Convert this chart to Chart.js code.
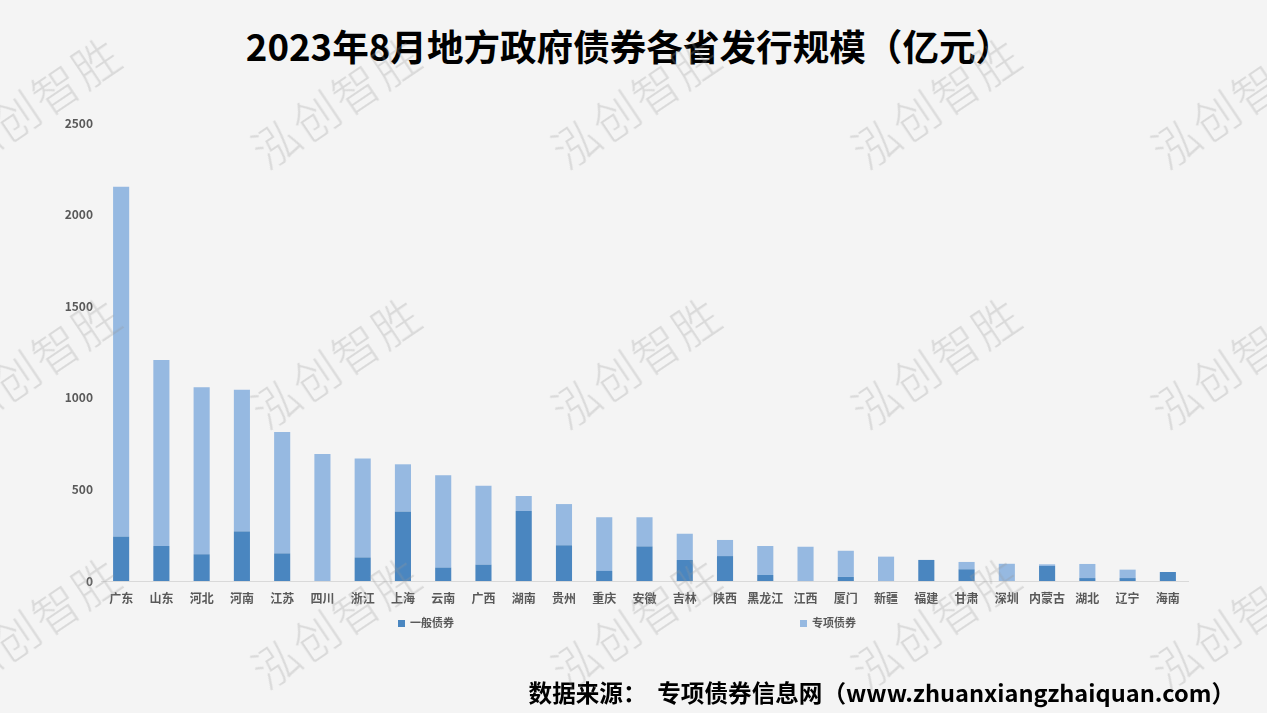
<!DOCTYPE html>
<html>
<head>
<meta charset="utf-8">
<script src="https://cdn.jsdelivr.net/npm/chart.js@4.4.0/dist/chart.umd.min.js"></script>
<style>
    html, body { margin: 0; padding: 0; }
    body { width: 1267px; height: 713px; background: #f4f4f4; position: relative; overflow: hidden;
           font-family: "Noto Sans CJK SC", "Noto Sans", sans-serif; }
    #wrap { position: absolute; left: 0; top: 0; width: 1267px; height: 713px; }
    #title { position: absolute; left: 6px; width: 1246px; top: 21px; text-align: center;
             font-size: 36.6px; font-weight: 700; color: #000; line-height: 50px; }
    #source { position: absolute; right: 32px; top: 676px; font-size: 23.6px; font-weight: 700;
              color: #000; line-height: 32px; white-space: pre; }
    #legend { position: absolute; top: 612px; left: 0; width: 1267px; height: 20px; }
    .lg-item { position: absolute; font-size: 11px; font-weight: 700; color: #595959; line-height: 20px; }
    .lg-box { display: inline-block; width: 7px; height: 7px; margin-right: 5px; vertical-align: 0px; }
    .wm { position: absolute; font-size: 46px; font-weight: 300; color: rgba(150,150,150,0.28);
          white-space: nowrap; transform: translate(-50%, -50%) rotate(-34deg); pointer-events: none;
          letter-spacing: 2px; }
</style>
</head>
<body>
<div id="title">2023年8月地方政府债券各省发行规模（亿元）</div>
<div id="wrap"><canvas id="chart"></canvas></div>
<div id="legend"></div>
<div id="source">数据来源：  专项债券信息网（www.zhuanxiangzhaiquan.com）</div>
<div id="marks"></div>
<script>
const provinces = ['广东', '山东', '河北', '河南', '江苏', '四川', '浙江', '上海', '云南', '广西',
    '湖南', '贵州', '重庆', '安徽', '吉林', '陕西', '黑龙江', '江西', '厦门', '新疆',
    '福建', '甘肃', '深圳', '内蒙古', '湖北', '辽宁', '海南'];

// 一般债券
const generalBonds = [242, 191, 146, 271, 151, 0, 129, 380, 73, 89,
    382, 195, 55, 189, 115, 136, 33, 0, 22, 0,
    115, 64, 0, 82, 16, 16, 49];

// 专项债券
const specialBonds = [1910, 1015, 911, 773, 662, 693, 539, 257, 504, 431,
    82, 225, 293, 159, 143, 88, 158, 187, 143, 133,
    0, 40, 94, 9, 77, 46, 0];

const yTicks = [0, 500, 1000, 1500, 2000, 2500];

const seriesNames = ['一般债券', '专项债券'];
const seriesColors = ['#4a86c0', '#96b9e1'];

const ctx = document.getElementById('chart');
const chart = new Chart(ctx, {
    type: 'bar',
    data: {
        labels: provinces,
        datasets: [
            { label: seriesNames[0], data: generalBonds, backgroundColor: seriesColors[0] },
            { label: seriesNames[1], data: specialBonds, backgroundColor: seriesColors[1] }
        ]
    },
    options: {
        responsive: true,
        maintainAspectRatio: false,
        animation: false,
        layout: { padding: { top: 123, left: 55, right: 79, bottom: 102 } },
        datasets: { bar: { barPercentage: 0.4, categoryPercentage: 1 } },
        plugins: {
            legend: { display: false },
            tooltip: { enabled: false }
        },
        scales: {
            x: {
                stacked: true,
                grid: { display: false, drawTicks: false },
                border: { display: true, color: '#d9d9d9', width: 1 },
                ticks: {
                    color: '#595959', padding: 10, maxRotation: 0, minRotation: 0, autoSkip: false,
                    font: { size: 12, weight: 'bold', family: '"Noto Sans CJK SC"' }
                },
                afterFit: function (scale) { scale.height = 30; }
            },
            y: {
                stacked: true,
                min: 0,
                max: 2500,
                afterBuildTicks: function (scale) {
                    scale.ticks = yTicks.map(v => ({ value: v }));
                },
                grid: { display: false, drawTicks: false },
                border: { display: false },
                ticks: {
                    color: '#595959', padding: 8,
                    callback: function (value) { return String(value); },
                    font: { size: 12, weight: 'bold', family: '"Noto Sans CJK SC"' }
                },
                afterFit: function (scale) { scale.width = 46; }
            }
        }
    }
});

// legend spread out like the original
const legendPos = [398, 800];
const legend = document.getElementById('legend');
chart.data.datasets.forEach((ds, i) => {
    let item = document.createElement('div');
    item.className = 'lg-item';
    item.style.left = legendPos[i] + 'px';
    item.innerHTML = `<span class="lg-box" style="background:${ds.backgroundColor}"></span>${ds.label}`;
    legend.appendChild(item);
});

// watermark grid
const marks = document.getElementById('marks');
for (let r = 0; r < 3; r++) {
    for (let c = 0; c < 5; c++) {
        let m = document.createElement('div');
        m.className = 'wm';
        m.textContent = '泓创智胜';
        m.style.left = (35 + c * 300) + 'px';
        m.style.top = (100 + r * 260) + 'px';
        marks.appendChild(m);
    }
}
</script>
</body>
</html>
